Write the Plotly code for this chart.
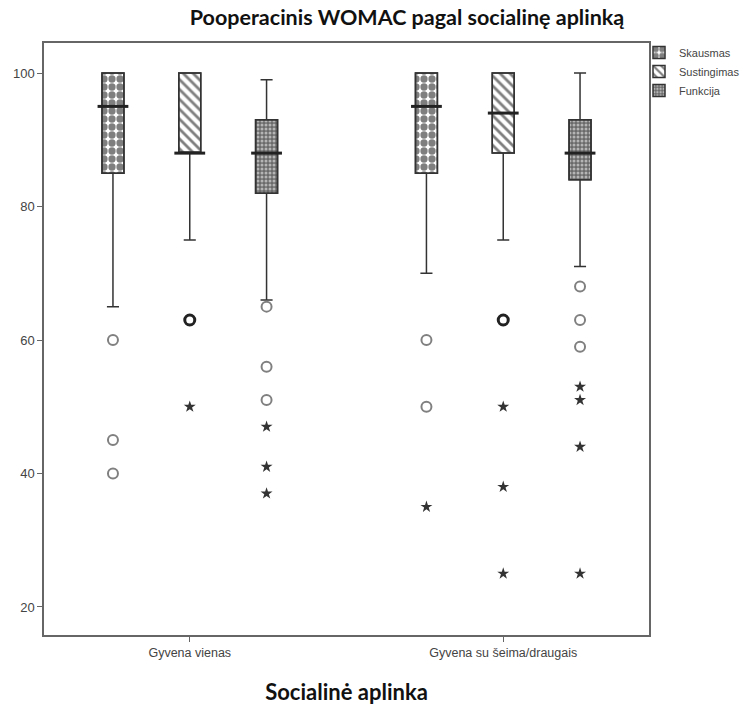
import plotly.graph_objects as go

# ---- data ----
groups = ["Gyvena vienas", "Gyvena su šeima/draugais"]
series = ["Skausmas", "Sustingimas", "Funkcija"]

# per series: lists over groups
q1 = {"Skausmas": [85, 85], "Sustingimas": [88, 88], "Funkcija": [82, 84]}
med = {"Skausmas": [95, 95], "Sustingimas": [88, 94], "Funkcija": [88, 88]}
q3 = {"Skausmas": [100, 100], "Sustingimas": [100, 100], "Funkcija": [93, 93]}
lo = {"Skausmas": [65, 70], "Sustingimas": [75, 75], "Funkcija": [66, 71]}
hi = {"Skausmas": [100, 100], "Sustingimas": [100, 100], "Funkcija": [99, 100]}

# outliers (circles) and extremes (stars)
circles = {
    "Skausmas": [[60, 45, 40], [60, 50]],
    "Sustingimas": [[], []],
    "Funkcija": [[65, 56, 51], [68, 63, 59]],
}
bold_circles = {
    "Skausmas": [[], []],
    "Sustingimas": [[63], [63]],
    "Funkcija": [[], []],
}
stars = {
    "Skausmas": [[], [35]],
    "Sustingimas": [[50], [50, 38, 25]],
    "Funkcija": [[47, 41, 37], [53, 51, 44, 25]],
}

y_ticks = [20, 40, 60, 80, 100]

# ---- styling ----
patterns = {
    "Skausmas": dict(shape=".", fgcolor="#000", bgcolor="white", size=8, solidity=0.65),
    "Sustingimas": dict(shape="\\", fgcolor="#000", bgcolor="white", size=7, solidity=0.4),
    "Funkcija": dict(shape=".", fgcolor="white", bgcolor="#6a6a6a", size=4, solidity=0.45),
}
offsets = {"Skausmas": -0.245, "Sustingimas": 0.0, "Funkcija": 0.245}
box_w = 0.07
group_pos = [1, 2]
line_col = "#333"

fig = go.Figure()

for s in series:
    xs = [g + offsets[s] for g in group_pos]
    # patterned box body
    fig.add_trace(go.Bar(
        x=xs, y=[b - a for a, b in zip(q1[s], q3[s])], base=q1[s], width=box_w,
        name=s, marker=dict(color="white", pattern=patterns[s],
                            line=dict(color=line_col, width=1.5)),
        showlegend=True, hoverinfo="skip",
    ))
    # whiskers / outline
    fig.add_trace(go.Box(
        x=xs, q1=q1[s], median=med[s], q3=q3[s], lowerfence=lo[s], upperfence=hi[s],
        width=box_w, whiskerwidth=0.55, fillcolor="rgba(0,0,0,0)",
        line=dict(color=line_col, width=1.5), boxpoints=False, showlegend=False,
    ))
    # bold median
    fig.add_trace(go.Scatter(
        x=xs, y=med[s], mode="markers", showlegend=False, hoverinfo="skip",
        marker=dict(symbol="line-ew", size=22, line=dict(color="#222", width=3)),
    ))
    # outliers
    cx, cy, bx, by, sx, sy = [], [], [], [], [], []
    for i, g in enumerate(group_pos):
        for v in circles[s][i]:
            cx.append(g + offsets[s]); cy.append(v)
        for v in bold_circles[s][i]:
            bx.append(g + offsets[s]); by.append(v)
        for v in stars[s][i]:
            sx.append(g + offsets[s]); sy.append(v)
    if cx:
        fig.add_trace(go.Scatter(x=cx, y=cy, mode="markers", showlegend=False,
                                 marker=dict(symbol="circle-open", size=10, color="#808080",
                                             line=dict(color="#808080", width=2))))
    if bx:
        fig.add_trace(go.Scatter(x=bx, y=by, mode="markers", showlegend=False,
                                 marker=dict(symbol="circle-open", size=10, color="#222",
                                             line=dict(color="#222", width=3))))
    if sx:
        fig.add_trace(go.Scatter(x=sx, y=sy, mode="markers", showlegend=False,
                                 marker=dict(symbol="star", size=9, color="#333",
                                             line=dict(width=0))))

fig.update_layout(
    width=754, height=705,
    margin=dict(l=44, r=105, t=43, b=70, autoexpand=False),
    paper_bgcolor="white", plot_bgcolor="white",
    barmode="overlay",
    title=dict(text="<b>Pooperacinis WOMAC pagal socialinę aplinką</b>",
               x=407 / 754, xanchor="center", y=1 - 17 / 705, yanchor="middle",
               font=dict(family="Lato", size=21.5, color="#111")),
    font=dict(family="Liberation Sans", size=12, color="#444"),
    legend=dict(xref="container", yref="container", x=639 / 754, xanchor="left",
                y=1 - 38 / 705, yanchor="top", tracegroupgap=0,
                font=dict(size=11, color="#444"), bgcolor="rgba(0,0,0,0)",
                itemwidth=30),
    xaxis=dict(range=[0.535, 2.465], tickvals=group_pos, ticktext=groups,
               showgrid=False, zeroline=False, showline=True, mirror=True,
               linecolor="#666", linewidth=1.5, ticks="outside", ticklen=5,
               tickcolor="#666", tickfont=dict(size=12.5, color="#444"),
               title=dict(text="<b>Socialinė aplinka</b>", standoff=26,
                          font=dict(family="Lato", size=22, color="#111"))),
    yaxis=dict(range=[15.8, 104.5], tickvals=y_ticks, showgrid=False,
               zeroline=False, showline=True, mirror=True, linecolor="#666",
               linewidth=1.5, ticks="outside", ticklen=5, tickcolor="#666",
               tickfont=dict(size=13, color="#444")),
)

fig.write_html("out.html")
